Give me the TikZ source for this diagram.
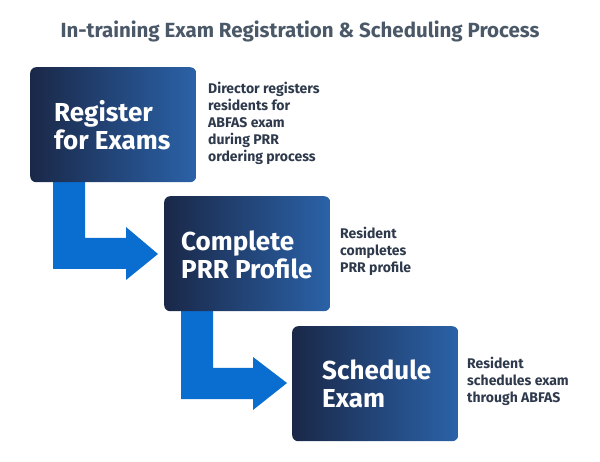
\documentclass[tikz,border=0pt]{standalone}
\usepackage{fontspec}
\setmainfont{Fira Sans}
\usetikzlibrary{positioning}
\definecolor{titlegray}{HTML}{4A5868}
\definecolor{notegray}{HTML}{2E3A4C}
\definecolor{boxdark}{HTML}{1A2848}
\definecolor{boxlight}{HTML}{2B62A8}
\definecolor{arrowblue}{HTML}{0A6DD0}
\tikzset{stepbox/.style={draw=none,rounded corners=6pt,left color=boxdark,right color=boxlight,
    minimum width=166pt,minimum height=115pt,anchor=north west,inner sep=0pt},
  steplabel/.style={anchor=west,text=white,font=\bfseries\fontsize{26}{28}\selectfont,align=left,inner sep=0pt},
  note/.style={anchor=north west,text=notegray,font=\bfseries\fontsize{14}{17}\selectfont,align=left,inner sep=0pt},
  bentarrow/.style={fill=arrowblue,draw=none}}
\begin{document}
\begin{tikzpicture}[x=1pt,y=-1pt]
  \useasboundingbox (0,0) rectangle (600,462);
  \node[text=titlegray,font=\bfseries\fontsize{20.5}{24}\selectfont] (title) at (300,31) {In-training Exam Registration \& Scheduling Process};
  % arrows behind the boxes
  \fill[bentarrow] (53,175)--(85,175)--(85,238)--(126,238)--(126,227)--(158,254)--(126,280)--(126,269)--(53,269)--cycle;
  \fill[bentarrow] (181,305)--(213,305)--(213,368)--(253,368)--(253,357)--(287,383)--(253,410)--(253,399)--(181,399)--cycle;
  % boxes
  \node[stepbox] (reg) at (30,67) {};
  \node[stepbox] (prr) at (164,196) {};
  \node[stepbox] (sched) at (292,326) {};
  \node[steplabel] (reglabel) at (54,125) {Register\\for Exams};
  \node[steplabel] (prrlabel) at (181,255) {Complete\\PRR Profile};
  \node[steplabel] (schedlabel) at (322,384) {Schedule\\Exam};
  % notes
  \node[note] (regnote) at (208,82) {Director registers\\residents for\\ABFAS exam\\during PRR\\ordering process};
  \node[note] (prrnote) at (340,227) {Resident\\completes\\PRR profile};
  \node[note] (schednote) at (467,357) {Resident\\schedules exam\\through ABFAS};
\end{tikzpicture}
\end{document}
